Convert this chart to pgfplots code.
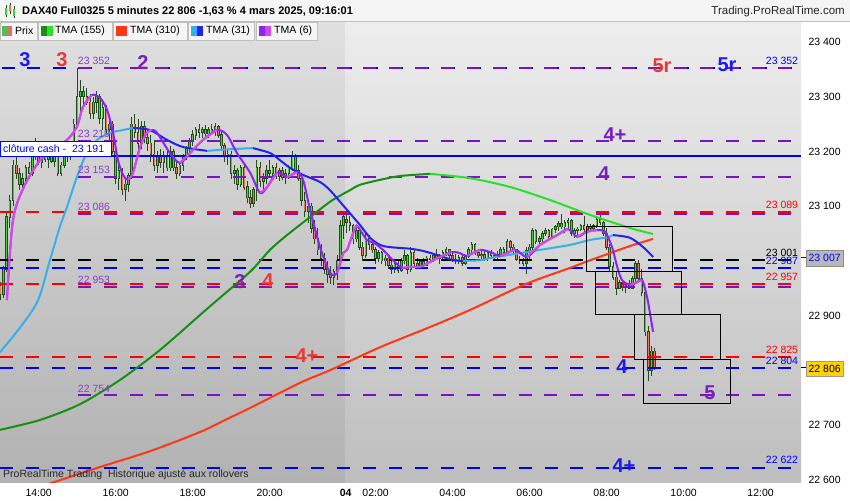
\documentclass[border=0pt]{standalone}
\usepackage{fontspec}
\setmainfont{Liberation Sans}
\usepackage{pgfplots}
\pgfplotsset{compat=1.18}
\usepackage{pgfplotstable}
\usepgfplotslibrary{fillbetween}

\definecolor{cOut}{RGB}{32,78,26}
\definecolor{cUp}{RGB}{70,205,60}
\definecolor{cDn}{RGB}{232,122,100}
\definecolor{gRise}{RGB}{20,145,20}
\definecolor{gFall}{RGB}{40,225,40}
\definecolor{tRed}{RGB}{255,55,20}
\definecolor{bRise}{RGB}{55,175,235}
\definecolor{bFall}{RGB}{35,35,235}
\definecolor{pRise}{RGB}{215,70,235}
\definecolor{pFall}{RGB}{140,35,240}
\definecolor{lPur}{RGB}{120,20,200}
\definecolor{lBlue}{RGB}{0,0,255}
\definecolor{lRed}{RGB}{255,0,0}
\definecolor{tPur}{RGB}{140,60,200}
\definecolor{bigRed}{RGB}{232,56,56}
\definecolor{bigBlue}{RGB}{25,25,240}
\definecolor{bigPur}{RGB}{120,30,190}
\definecolor{bgTopR}{RGB}{237,237,237}
\definecolor{bgBotR}{RGB}{190,190,190}
\definecolor{bgTopL}{RGB}{224,224,224}
\definecolor{bgBotL}{RGB}{178,178,178}
\definecolor{fillG}{RGB}{60,130,60}
\definecolor{gold}{RGB}{255,210,0}
\definecolor{prixG}{RGB}{80,190,80}
\definecolor{prixR}{RGB}{225,110,110}

\pgfplotstableread{
x o h l c
0 22955 22962 22928 22938
1 22938 22990 22932 22985
2 22985 23090 22980 23080
3 23080 23120 23060 23110
4 23110 23185 23100 23175
5 23175 23190 23150 23160
6 23160 23170 23130 23140
7 23140 23160 23125 23150
8 23150 23175 23140 23170
9 23170 23180 23150 23160
10 23160 23200 23155 23195
11 23195 23225 23185 23200
12 23200 23215 23175 23180
13 23180 23200 23170 23195
14 23195 23210 23180 23185
15 23185 23200 23170 23190
16 23190 23205 23178 23182
17 23182 23195 23172 23190
18 23190 23198 23155 23160
19 23160 23180 23155 23175
20 23175 23195 23170 23190
21 23190 23200 23180 23195
22 23195 23215 23185 23205
23 23205 23260 23195 23250
24 23250 23352 23245 23300
25 23300 23330 23270 23310
26 23310 23320 23280 23300
27 23300 23315 23285 23290
28 23290 23305 23260 23270
29 23270 23300 23260 23290
30 23290 23310 23270 23300
31 23300 23305 23250 23260
32 23260 23290 23240 23280
33 23280 23285 23230 23240
34 23240 23260 23220 23250
35 23250 23255 23195 23200
36 23200 23210 23140 23150
37 23150 23175 23130 23165
38 23165 23170 23120 23130
39 23130 23150 23110 23140
40 23140 23160 23125 23155
41 23155 23262 23150 23250
42 23250 23268 23225 23235
43 23235 23260 23200 23215
44 23215 23255 23205 23245
45 23245 23255 23215 23225
46 23225 23240 23200 23215
47 23215 23230 23180 23195
48 23195 23220 23165 23175
49 23175 23200 23160 23190
50 23190 23205 23170 23180
51 23180 23200 23160 23190
52 23190 23200 23165 23170
53 23170 23210 23165 23200
54 23200 23205 23165 23170
55 23170 23185 23150 23160
56 23160 23180 23155 23175
57 23175 23195 23165 23190
58 23190 23210 23185 23205
59 23205 23225 23195 23220
60 23220 23240 23210 23230
61 23230 23245 23220 23240
62 23240 23250 23225 23235
63 23235 23245 23225 23240
64 23240 23248 23228 23232
65 23232 23245 23225 23240
66 23240 23250 23230 23235
67 23235 23252 23228 23245
68 23245 23248 23225 23230
69 23230 23238 23205 23210
70 23210 23215 23180 23190
71 23190 23205 23175 23195
72 23195 23200 23150 23160
73 23160 23175 23140 23165
74 23165 23170 23130 23140
75 23140 23175 23135 23170
76 23170 23178 23130 23135
77 23135 23145 23105 23115
78 23115 23130 23097 23105
79 23105 23135 23098 23130
80 23130 23185 23110 23170
81 23170 23180 23135 23145
82 23145 23160 23125 23150
83 23150 23175 23140 23165
84 23165 23185 23155 23160
85 23160 23175 23145 23170
86 23170 23178 23150 23155
87 23155 23170 23145 23165
88 23165 23172 23148 23152
89 23152 23168 23140 23160
90 23160 23175 23150 23170
91 23170 23200 23165 23190
92 23190 23195 23160 23165
93 23165 23175 23145 23150
94 23150 23160 23100 23110
95 23110 23125 23080 23090
96 23090 23110 23070 23100
97 23100 23105 23050 23060
98 23060 23075 23030 23040
99 23040 23060 23010 23020
100 23020 23030 22990 23005
101 23005 23015 22975 22985
102 22985 23000 22960 22975
103 22975 22990 22958 22970
104 22970 22985 22955 22980
105 22980 23010 22965 23000
106 23000 23075 22995 23065
107 23065 23085 23040 23080
108 23075 23085 23050 23070
109 23070 23082 23055 23065
110 23065 23068 23030 23040
111 23040 23060 23035 23055
112 23055 23058 23020 23025
113 23025 23035 23000 23010
114 23010 23050 23005 23040
115 23040 23048 23020 23030
116 23030 23035 23015 23020
117 23020 23025 22995 23005
118 23005 23020 22998 23015
119 23015 23018 22995 23000
120 23000 23010 22990 23005
121 23005 23008 22985 22992
122 22992 23000 22975 22985
123 22985 23000 22978 22995
124 22995 23000 22978 22982
125 22982 23005 22980 23000
126 23000 23020 22995 23010
127 23010 23012 22975 22985
128 22985 23025 22980 23015
129 23015 23020 22990 22995
130 22995 23005 22985 22990
131 22990 23000 22985 22998
132 22998 23005 22988 22992
133 22992 23008 22990 23005
134 23005 23010 22998 23002
135 23002 23015 22998 23010
136 23010 23022 23002 23005
137 23005 23012 22995 23008
138 23008 23020 23003 23015
139 23015 23025 23008 23020
140 23020 23022 23005 23010
141 23010 23018 22998 23002
142 23002 23012 22995 23000
143 23000 23010 22995 23006
144 23006 23010 22990 22995
145 22995 23010 22992 23008
146 23008 23025 23005 23020
147 23020 23035 23015 23030
148 23030 23032 23010 23015
149 23015 23020 23005 23010
150 23010 23018 23002 23012
151 23012 23020 23000 23005
152 23005 23020 23000 23015
153 23015 23020 23005 23010
154 23010 23015 23000 23008
155 23008 23018 23003 23012
156 23012 23025 23008 23020
157 23020 23025 23010 23015
158 23015 23040 23012 23035
159 23035 23038 23020 23025
160 23025 23030 23015 23020
161 23020 23022 23000 23002
162 23002 23008 22995 23000
163 23000 23005 22990 22995
164 22995 23025 22975 23018
165 23018 23030 23000 23025
166 23025 23060 23020 23055
167 23055 23058 23030 23035
168 23035 23045 23028 23040
169 23040 23055 23035 23050
170 23050 23060 23045 23055
171 23055 23058 23040 23045
172 23045 23060 23042 23058
173 23058 23065 23050 23062
174 23062 23072 23055 23068
175 23068 23085 23058 23062
176 23062 23075 23050 23070
177 23070 23078 23060 23074
178 23074 23076 23045 23050
179 23050 23060 23042 23055
180 23055 23062 23045 23058
181 23058 23068 23055 23065
182 23065 23082 23052 23058
183 23058 23068 23050 23062
184 23062 23068 23052 23060
185 23060 23068 23055 23065
186 23065 23080 23060 23075
187 23075 23085 23065 23070
188 23070 23072 23045 23050
189 23050 23060 23020 23025
190 23025 23030 22980 22990
191 22990 22998 22965 22970
192 22970 22982 22938 22950
193 22950 22965 22948 22960
194 22960 22962 22945 22952
195 22952 22962 22942 22955
196 22955 22965 22948 22950
197 22950 22972 22948 22968
198 22968 23000 22962 22995
199 22995 23002 22960 22968
200 22968 22985 22935 22942
201 22942 22950 22862 22870
202 22870 22880 22780 22800
203 22800 22845 22790 22835
204 22835 22840 22800 22806
}\candles

\begin{document}
\begin{tikzpicture}
\fill[white] (0pt,0pt) rectangle (850pt,500pt);
% plot-area backgrounds (previous day darker)
\begin{scope}[shift={(0pt,500pt)}, x=1pt, y=-1pt]
\shade[top color=bgTopL, bottom color=bgBotL] (0,21) rectangle (345.7,482);
\shade[top color=bgTopR, bottom color=bgBotR] (345.7,21) rectangle (801,482);
\end{scope}
\begin{axis}[
  at={(0pt,18pt)}, anchor=south west,
  scale only axis, width=801pt, height=461pt,
  xmin=-0.06, xmax=249.6, ymin=22595.6, ymax=23438.4,
  scaled x ticks=false, scaled y ticks=false,
  axis x line*=bottom, axis y line*=right,
  axis line style={-, black!55, line width=0.8pt},
  tick align=outside, major tick length=4pt,
  tick style={black!70, line width=0.6pt},
  xtick={12,36,60,84,107.7,117,141,165,189,213,237},
  xticklabels={14:00,16:00,18:00,20:00,\textbf{04},02:00,04:00,06:00,08:00,10:00,12:00},
  ytick={22600,22700,22800,22900,23000,23100,23200,23300,23400},
  yticklabels={22 600,22 700,,22 900,,23 100,23 200,23 300,23 400},
  ticklabel style={font=\fontsize{10.5}{12}\selectfont, text=black},
]
% fill between TMA155 and TMA310
\addplot[draw=none, name path=G, forget plot] coordinates {(-0.06,22691) (12.4,22709) (24.9,22738) (37.3,22782) (49.8,22837) (62.3,22901) (67.6,22928) (77.9,22980) (84.1,23020) (89.4,23047) (94.4,23070) (98.8,23090) (102.8,23108) (105.9,23119) (109,23129) (112.2,23139) (118.4,23148) (124.6,23155) (134,23159) (146.4,23151) (158.9,23135) (171.4,23111) (183.8,23084) (196.3,23060) (203.5,23049)};
\addplot[draw=none, name path=R, forget plot] coordinates {(-0.06,22563) (17.1,22596) (31.1,22623) (46.7,22652) (62.3,22687) (70.1,22709) (77.9,22731) (93.5,22777) (102.8,22800) (118.4,22842) (134,22879) (146.4,22910) (163.6,22957) (177.6,22987) (183.9,23001) (190.1,23014) (196.3,23027) (203.5,23040)};
\addplot[fill=fillG, fill opacity=0.35, draw=none, forget plot] fill between[of=G and R];

% candles: wicks
\addplot[draw=none, mark=none, forget plot,
  error bars/.cd, y dir=plus, y explicit, error mark=none,
  error bar style={draw=cOut, line width=1pt}]
  table[x=x, y=l, y error expr=\thisrow{h}-\thisrow{l}] {\candles};
% bodies outline
\addplot[draw=none, mark=none, forget plot,
  error bars/.cd, y dir=plus, y explicit, error mark=none,
  error bar style={draw=cOut, line width=2.6pt}]
  table[x=x, y expr={min(\thisrow{o},\thisrow{c})-1}, y error expr={abs(\thisrow{c}-\thisrow{o})+2}] {\candles};
% bodies up
\addplot[draw=none, mark=none, forget plot,
  error bars/.cd, y dir=plus, y explicit, error mark=none,
  error bar style={draw=cUp, line width=1pt}]
  table[x=x, y expr={\thisrow{o}+0.5}, y error expr={max(\thisrow{c}-\thisrow{o}-1,0)}] {\candles};
% bodies down
\addplot[draw=none, mark=none, forget plot,
  error bars/.cd, y dir=plus, y explicit, error mark=none,
  error bar style={draw=cDn, line width=1pt}]
  table[x=x, y expr={\thisrow{c}+0.5}, y error expr={max(\thisrow{o}-\thisrow{c}-1,0)}] {\candles};

% horizontal level lines
\addplot[lBlue, line width=2pt, dash pattern=on 13pt off 12.93pt, dash phase=24.4pt] coordinates {(-0.06,23352) (249.6,23352)};
\addplot[lRed, line width=2pt, dash pattern=on 13pt off 12.93pt] coordinates {(-0.06,23089) (249.6,23089)};
\addplot[black, line width=2pt, dash pattern=on 13pt off 12.93pt] coordinates {(-0.06,23001) (249.6,23001)};
\addplot[lBlue, line width=2pt, dash pattern=on 13pt off 12.93pt] coordinates {(-0.06,22987) (249.6,22987)};
\addplot[lRed, line width=2pt, dash pattern=on 13pt off 12.93pt] coordinates {(-0.06,22957) (249.6,22957)};
\addplot[lRed, line width=2pt, dash pattern=on 13pt off 12.93pt] coordinates {(-0.06,22825) (249.6,22825)};
\addplot[lBlue, line width=2pt, dash pattern=on 13pt off 12.93pt] coordinates {(-0.06,22804) (249.6,22804)};
\addplot[lBlue, line width=2pt, dash pattern=on 13pt off 12.93pt] coordinates {(-0.06,22622) (249.6,22622)};
\addplot[lPur, line width=2pt, dash pattern=on 13pt off 12.93pt] coordinates {(24.16,23352) (249.6,23352)};
\addplot[lPur, line width=2pt, dash pattern=on 13pt off 12.93pt] coordinates {(24.16,23219) (249.6,23219)};
\addplot[lPur, line width=2pt, dash pattern=on 13pt off 12.93pt] coordinates {(24.16,23153) (249.6,23153)};
\addplot[lPur, line width=2pt, dash pattern=on 13pt off 12.93pt] coordinates {(24.16,23086) (249.6,23086)};
\addplot[lPur, line width=2pt, dash pattern=on 13pt off 12.93pt] coordinates {(24.16,22953) (249.6,22953)};
\addplot[lPur, line width=2pt, dash pattern=on 13pt off 12.93pt] coordinates {(24.16,22754) (249.6,22754)};
\addplot[lBlue, line width=2pt] coordinates {(-0.06,23191) (249.6,23191)};

% TMA 310
\addplot[tRed, line width=2pt, smooth] coordinates {(-0.06,22563) (17.1,22596) (31.1,22623) (46.7,22652) (62.3,22687) (70.1,22709) (77.9,22731) (93.5,22777) (102.8,22800) (118.4,22842) (134,22879) (146.4,22910) (163.6,22957) (177.6,22987) (183.9,23001) (190.1,23014) (196.3,23027) (203.5,23040)};
% TMA 155
\addplot[gRise, line width=2pt, smooth] coordinates {(-0.06,22691) (12.4,22709) (24.9,22738) (37.3,22782) (49.8,22837) (62.3,22901) (67.6,22928) (77.9,22980) (84.1,23020) (89.4,23047) (94.4,23070) (98.8,23090) (102.8,23108) (105.9,23119) (109,23129) (112.2,23139) (118.4,23148) (124.6,23155) (134,23159)};
\addplot[gFall, line width=2pt, smooth] coordinates {(134,23159) (146.4,23151) (158.9,23135) (171.4,23111) (183.8,23084) (196.3,23060) (203.5,23049)};
% TMA 31
\addplot[bRise, line width=2pt, smooth] coordinates {(-0.06,22833) (6.2,22878) (11.8,22928) (15.5,23001) (18.6,23062) (20.8,23098) (23.9,23153) (27,23197) (30.2,23221) (34.2,23234) (38.3,23239) (41.4,23243)};
\addplot[bFall, line width=2pt, smooth] coordinates {(41.4,23243) (46.7,23239) (52,23221) (57,23208) (64.5,23201)};
\addplot[bRise, line width=2pt, smooth] coordinates {(64.5,23201) (71.6,23204) (78.8,23206)};
\addplot[bFall, line width=2pt, smooth] coordinates {(78.8,23206) (84.1,23197) (87.2,23184) (90.3,23170) (94.4,23157) (99.7,23144) (102.8,23129) (105.9,23108) (109,23087) (112.2,23065) (115.3,23042) (118.4,23029) (121.5,23025) (127.8,23022) (131.8,23018) (137.1,23009) (141.2,23001) (144.3,23000)};
\addplot[bRise, line width=2pt, smooth] coordinates {(144.3,23000) (149.6,23001) (152.7,23005) (158.9,23011) (168.3,23020) (177.6,23029) (183.8,23038) (189.2,23043) (191,23047)};
\addplot[bFall, line width=2pt, smooth] coordinates {(191,23047) (196.3,23042) (200.4,23025) (203.5,23007)};
% TMA 6
\addplot[pFall, line width=2pt, smooth] coordinates {(2.1,22928) (4.0,23075) (7.7,23139) (12.4,23184) (14.6,23197) (20.8,23221) (23.9,23245) (25.8,23281) (28.6,23303) (31.1,23298) (33.3,23276) (35.2,23234) (36.7,23184) (38.3,23157) (39.8,23148) (41.4,23161) (43.6,23208) (45.8,23235) (47.3,23239) (48.9,23234) (52.9,23197) (56.0,23179) (59.2,23197) (63.2,23221) (67.6,23239) (70.7,23230) (73.8,23197) (77.9,23161) (81.0,23124) (83.2,23135) (86.3,23161) (89.4,23153) (92.5,23162) (94.4,23148) (96.6,23093) (99.7,23025) (102.8,22978) (105.0,22978) (106.9,23014) (108.1,23020) (110.6,23060) (111.5,23062) (114.3,23038) (116.2,23034) (119.3,23020) (122.4,23001) (125.2,22987) (127.7,22989) (130.9,22989) (134.0,22998) (137.1,23007) (140.8,23016) (143.3,23014) (145.5,23009) (149.6,23020) (153.6,23014) (155.8,23009) (160.5,23020) (164.2,23007) (168.3,23029) (173.6,23047) (177.0,23058) (179.8,23044) (182.9,23053) (186.0,23056) (188.5,23053) (190.7,23025) (192.3,22989) (193.8,22965) (196.3,22956) (198.5,22961) (200.1,22965) (201.6,22934) (202.5,22905) (203.5,22870)};
\addplot[pRise, line width=2pt, smooth] coordinates {(2.1,22928) (4.0,23075) (7.7,23139) (12.4,23184) (14.6,23197) (20.8,23221) (23.9,23245) (25.8,23281) (28.6,23303)};
\addplot[pRise, line width=2pt, smooth] coordinates {(39.8,23148) (41.4,23161) (43.6,23208) (45.8,23235) (47.3,23239)};
\addplot[pRise, line width=2pt, smooth] coordinates {(56.0,23179) (59.2,23197) (63.2,23221) (67.6,23239)};
\addplot[pRise, line width=2pt, smooth] coordinates {(81.0,23124) (83.2,23135) (86.3,23161)};
\addplot[pRise, line width=2pt, smooth] coordinates {(89.4,23153) (92.5,23162)};
\addplot[pRise, line width=2pt, smooth] coordinates {(105.0,22978) (106.9,23014) (108.1,23020) (110.6,23060) (111.5,23062)};
\addplot[pRise, line width=2pt, smooth] coordinates {(125.2,22987) (127.7,22989) (130.9,22989) (134.0,22998) (137.1,23007) (140.8,23016)};
\addplot[pRise, line width=2pt, smooth] coordinates {(145.5,23009) (149.6,23020)};
\addplot[pRise, line width=2pt, smooth] coordinates {(155.8,23009) (160.5,23020)};
\addplot[pRise, line width=2pt, smooth] coordinates {(164.2,23007) (168.3,23029) (173.6,23047) (177.0,23058)};
\addplot[pRise, line width=2pt, smooth] coordinates {(179.8,23044) (182.9,23053) (186.0,23056)};
\addplot[pRise, line width=2pt, smooth] coordinates {(196.3,22956) (198.5,22961) (200.1,22965)};

% boxes
\draw[black, line width=1pt] (axis cs:182.6,22981) rectangle (axis cs:209.4,23062);
\draw[black, line width=1pt] (axis cs:185.4,22901) rectangle (axis cs:212.5,22981);
\draw[black, line width=1pt] (axis cs:197.6,22820) rectangle (axis cs:224.4,22901);
\draw[black, line width=1pt] (axis cs:200.4,22740) rectangle (axis cs:227.5,22820);
\end{axis}

\begin{scope}[shift={(0pt,500pt)}, x=1pt, y=-1pt, every node/.style={font=\fontsize{10.5}{12}\selectfont, inner sep=0pt}]
% header
\fill[black!4] (0,0) rectangle (850,21);
\draw[black!25, line width=0.6pt] (0,21) -- (850,21);
\draw[cOut, line width=0.8pt] (6,5) -- (6,17) (10,3) -- (10,14) (14,6) -- (14,18);
\fill[cUp] (5,8) rectangle (7,15);
\fill[cDn] (9,5) rectangle (11,11);
\fill[cUp] (13,9) rectangle (15,16);
\node[anchor=west, font=\bfseries\fontsize{11}{13}\selectfont] at (22,11) {DAX40 Full0325 5 minutes 22 806 -1,63 \% 4 mars 2025, 09:16:01};
\node[anchor=east, font=\fontsize{11.5}{13}\selectfont, text=black!85] at (845,12) {Trading.ProRealTime.com};
% legend tabs
\foreach \a/\b in {0/37,38/112,113/187,188/254,256/317}{
  \draw[black!25, fill=black!4, line width=0.6pt] (\a,22) rectangle (\b,40);}
\fill[prixG] (2,26) rectangle (7,36);
\fill[prixR] (7,26) rectangle (12,36);
\fill[gRise] (41,26) rectangle (47,36); \fill[gFall] (47,26) rectangle (53,36);
\fill[tRed] (116,26) rectangle (127,36);
\fill[bRise] (191,26) rectangle (197,36); \fill[bFall] (197,26) rectangle (203,36);
\fill[pFall] (259,26) rectangle (265,36); \fill[pRise] (265,26) rectangle (271,36);
\node[anchor=west] at (15,31) {Prix};
\node[anchor=west] at (55,31) {TMA (155)};
\node[anchor=west] at (130,31) {TMA (310)};
\node[anchor=west] at (206,31) {TMA (31)};
\node[anchor=west] at (274,31) {TMA (6)};
% small labels left
\node[text=tPur] at (94,61) {23 352};
\node[text=tPur] at (94,134) {23 219};
\node[text=tPur] at (94,170) {23 153};
\node[text=tPur] at (94,207) {23 086};
\node[text=tPur] at (94,280) {22 953};
\node[text=tPur] at (94,389) {22 754};
% small labels right
\node[text=lBlue] at (782,61) {23 352};
\node[text=lRed] at (782,205) {23 089};
\node[text=black] at (782,253) {23 001};
\node[text=lBlue] at (782,261) {22 987};
\node[text=lRed] at (782,277) {22 957};
\node[text=lRed] at (782,350) {22 825};
\node[text=lBlue] at (782,361) {22 804};
\node[text=lBlue] at (782,460) {22 622};
% big labels
\begin{scope}[every node/.style={font=\bfseries\fontsize{20}{22}\selectfont, inner sep=0pt}]
\node[text=bigBlue] at (25,60) {3};
\node[text=bigRed] at (62,60) {3};
\node[text=bigPur] at (143,63) {2};
\node[text=bigRed] at (662,66) {5r};
\node[text=bigBlue] at (727,65) {5r};
\node[text=bigPur] at (615,135) {4+};
\node[text=bigPur] at (604,174) {4};
\node[text=bigPur] at (240,282) {3};
\node[text=bigRed] at (268,281) {4};
\node[text=bigRed] at (307,356) {4+};
\node[text=bigBlue] at (622,367) {4};
\node[text=bigPur] at (710,393) {5};
\node[text=bigBlue] at (624,466) {4+};
\end{scope}
% cloture cash box
\draw[lBlue, fill=white, line width=0.8pt] (0,141) rectangle (111,156);
\node[anchor=west, text=lBlue] at (3,148.5) {clôture cash -\ \ 23 191};
% right tags
\draw[lBlue, line width=1pt] (801,258) -- (806,258);
\node[anchor=west, fill=black!28, draw=black!45, text=lBlue, minimum height=16pt, minimum width=37pt] at (806,258) {23 007};
\draw[black, line width=1pt] (801,368) -- (806,368);
\node[anchor=west, fill=gold, draw=black!40, text=black, minimum height=15pt, minimum width=37pt] at (806,368.5) {22 806};
% bottom text
\node[anchor=west, text=black!85] at (3,475) {ProRealTime Trading\ \ Historique ajusté aux rollovers};
\end{scope}
\pgfresetboundingbox
\useasboundingbox (0pt,0pt) rectangle (850pt,500pt);
\end{tikzpicture}
\end{document}
